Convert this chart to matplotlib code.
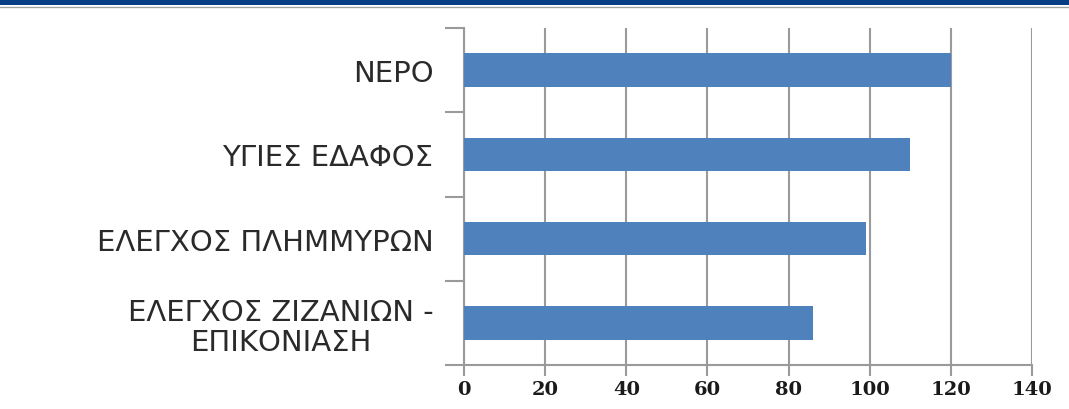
import matplotlib.pyplot as plt
from matplotlib.patches import Rectangle
from matplotlib.lines import Line2D
import numpy as np

categories = ['ΝΕΡΟ', 'ΥΓΙΕΣ ΕΔΑΦΟΣ', 'ΕΛΕΓΧΟΣ ΠΛΗΜΜΥΡΩΝ', 'ΕΛΕΓΧΟΣ ΖΙΖΑΝΙΩΝ -\nΕΠΙΚΟΝΙΑΣΗ']
values = [120, 110, 99, 86]
x_ticks = [0, 20, 40, 60, 80, 100, 120, 140]

grid_color = '#9a9a9a'

fig = plt.figure(figsize=(10.69, 4.10), dpi=100)
fig.patch.set_facecolor('white')

# header band
fig.patches.append(Rectangle((0, 1 - 6 / 410), 1, 6 / 410, transform=fig.transFigure,
                             facecolor='#063c84', edgecolor='none'))
fig.lines.append(Line2D([0, 1], [1 - 7.5 / 410, 1 - 7.5 / 410], transform=fig.transFigure,
                        color='#a0a0a0', lw=1))

ax = fig.add_axes([464 / 1069, 1 - 366 / 410, (1032 - 464) / 1069, (366 - 29) / 410])

y = np.arange(len(categories))
ax.barh(y, values, height=0.4, color='#4f81bd', zorder=3)

ax.set_xlim(0, 140)
ax.set_ylim(len(categories) - 0.5, -0.5)
ax.set_xticks(x_ticks)
ax.set_xticklabels([str(t) for t in x_ticks], family='DejaVu Serif', fontweight='bold',
                   fontsize=14, color='#1a1a1a')
ax.xaxis.grid(True, color=grid_color, lw=1.5, zorder=0)
ax.tick_params(axis='x', length=8, width=1.5, color=grid_color, pad=3)

ax.set_yticks(y)
ax.set_yticklabels(categories, family='DejaVu Sans', fontsize=21, color='#2a2a2a',
                   multialignment='center', linespacing=1.1)
ax.set_yticks(np.arange(len(categories) + 1) - 0.5, minor=True)
ax.tick_params(axis='y', which='major', length=0, pad=22)
ax.tick_params(axis='y', which='minor', length=14, width=1.5, color=grid_color)

for s in ['top', 'right']:
    ax.spines[s].set_visible(False)
for s in ['left', 'bottom']:
    ax.spines[s].set_color(grid_color)
    ax.spines[s].set_linewidth(1.5)

fig.savefig('out.png', dpi=100)
